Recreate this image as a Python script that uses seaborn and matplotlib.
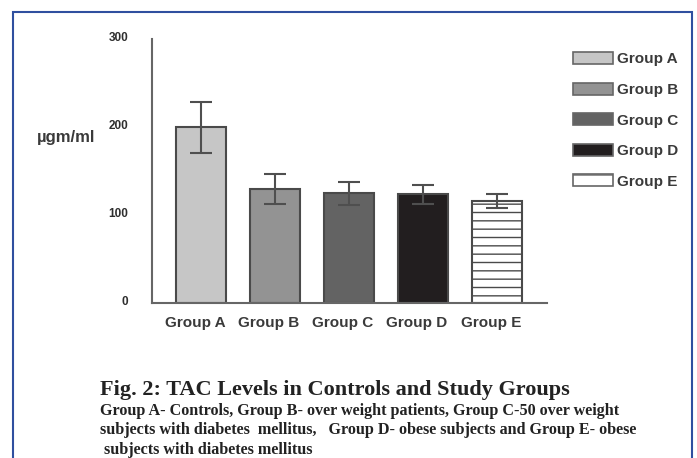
import matplotlib
matplotlib.use("Agg")
import matplotlib.pyplot as plt
import matplotlib.transforms as mtransforms
from matplotlib.patches import Patch, Rectangle
import seaborn as sns

# --- data ---
groups = ["Group A", "Group B", "Group C", "Group D", "Group E"]
tac_mean = [200, 130, 125, 124, 116]
tac_err = [29, 17, 13, 11, 8]
y_ticks = [0, 100, 200, 300]

bar_colors = ["#c6c6c6", "#939393", "#636363", "#221e1f", "#ffffff"]
edge_col = "#4a4a4a"
text_col = "#2e2e2e"

sns.set_style("white")
plt.rcParams["font.family"] = ["Liberation Sans", "DejaVu Sans"]
plt.rcParams["hatch.color"] = "#666666"
plt.rcParams["hatch.linewidth"] = 1.0

fig = plt.figure(figsize=(6.97, 4.58), dpi=100)
ax = fig.add_axes([151.7 / 697, 154.7 / 458, 395 / 697, 264 / 458])

sns.barplot(x=groups, y=tac_mean, hue=groups, palette=bar_colors, legend=False,
            width=0.676, edgecolor=edge_col, linewidth=1.5, errorbar=None, ax=ax)
ax.patches[4].set_hatch("--")

ax.errorbar(range(len(groups)), tac_mean, yerr=tac_err, fmt="none",
            ecolor="#4f4f4f", elinewidth=1.5, capsize=8, capthick=1.5, zorder=5)

ax.set_ylim(0, 300)
ax.set_xlim(-0.666, 4.676)
ax.set_yticks(y_ticks)
ax.set_yticklabels([str(t) for t in y_ticks], fontsize=8.5, fontweight="bold", color=text_col)
ax.set_xticks(range(len(groups)))
ax.set_xticklabels(groups, fontsize=11, fontweight="bold", color="#3a3a3a")
ax.tick_params(axis="y", direction="out", length=5, width=1.3, color="#666666", pad=12)
ax.tick_params(axis="x", length=0, pad=9)
ax.set_xlabel("")
ax.set_ylabel("")

# the original labels sit a little left of the bar centres, numbers a bit above the ticks
shift_x = mtransforms.ScaledTranslation(-6 / 100, 0, fig.dpi_scale_trans)
for lbl in ax.get_xticklabels():
    lbl.set_transform(lbl.get_transform() + shift_x)
shift_y = mtransforms.ScaledTranslation(0, 3 / 100, fig.dpi_scale_trans)
for lbl in ax.get_yticklabels():
    lbl.set_transform(lbl.get_transform() + shift_y)

for side in ["top", "right"]:
    ax.spines[side].set_visible(False)
for side in ["left", "bottom"]:
    ax.spines[side].set_color("#666666")
    ax.spines[side].set_linewidth(1.5)

fig.text(37 / 697, 1 - 138 / 458, "µgm/ml", fontsize=12, fontweight="bold",
         va="center", ha="left", color="#3a3a3a")

# legend on the right
handles = []
for g, c in zip(groups, bar_colors):
    h = Patch(facecolor=c, edgecolor="#666666", linewidth=1.2, label=g)
    if g == "Group E":
        h.set_hatch("-")
    handles.append(h)
leg = fig.legend(handles=handles, loc="upper left", bbox_to_anchor=(573 / 697, 1 - 52 / 458),
                 frameon=False, prop={"size": 11, "weight": "bold"}, handlelength=2.6,
                 handleheight=0.85, handletextpad=0.25, labelspacing=1.06,
                 borderpad=0, borderaxespad=0)
for t in leg.get_texts():
    t.set_color("#3a3a3a")

# caption
serif = ["Liberation Serif", "DejaVu Serif"]
fig.text(100 / 697, 1 - 395 / 458, "Fig. 2: TAC Levels in Controls and Study Groups",
         family=serif, fontsize=16, fontweight="bold", va="baseline", color="#222222")
caption_lines = [
    "Group A- Controls, Group B- over weight patients, Group C-50 over weight",
    "subjects with diabetes  mellitus,   Group D- obese subjects and Group E- obese",
    " subjects with diabetes mellitus",
]
for i, line in enumerate(caption_lines):
    fig.text(100 / 697, 1 - (415 + 19.5 * i) / 458, line, family=serif, fontsize=11.6,
             fontweight="bold", va="baseline", color="#222222")

# blue frame around the figure panel
fig.patches.append(Rectangle((13 / 697, -0.2), 679 / 697, 1.2 - 12 / 458,
                             transform=fig.transFigure, fill=False,
                             edgecolor="#2f4f9f", linewidth=1.5))

fig.savefig("out.png", dpi=100)
